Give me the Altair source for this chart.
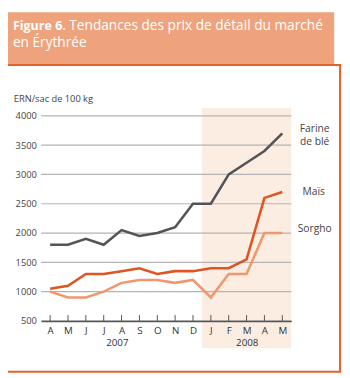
import json
import altair as alt
import pandas as pd

months = ["A", "M", "J", "J", "A", "S", "O", "N", "D", "J", "F", "M", "A", "M"]
years = ["2007", "2008"]
series_names = ["Farine de blé", "Maïs", "Sorgho"]
wheat = [1800, 1800, 1900, 1800, 2050, 1950, 2000, 2100, 2500, 2500, 3000, 3200, 3400, 3700]
maize = [1050, 1100, 1300, 1300, 1350, 1400, 1300, 1350, 1350, 1400, 1400, 1550, 2600, 2700]
sorghum = [1000, 900, 900, 1000, 1150, 1200, 1200, 1150, 1200, 900, 1300, 1300, 2000, 2000]
y_ticks = [500, 1000, 1500, 2000, 2500, 3000, 3500, 4000]
colors = ["#545456", "#DD5522", "#F0976C"]
FONT = "Open Sans"

rows = []
for name, vals in zip(series_names, [wheat, maize, sorghum]):
    for i, (m, v) in enumerate(zip(months, vals)):
        rows.append({"i": i, "mois": m, "serie": name, "prix": v})
df = pd.DataFrame(rows)

W, H = 256, 210
xs = alt.Scale(domain=[-0.5, len(months) - 0.5], nice=False, zero=False)
ys = alt.Scale(domain=[500, 4000], nice=False, zero=False)
one = pd.DataFrame({"a": [0]})

label_expr = json.dumps(months) + "[datum.value]"
ax_x = alt.Axis(
    values=list(range(len(months))), labelExpr=label_expr, title=None, grid=False, ticks=False,
    domainColor="#555555", domainWidth=1.5, labelFont=FONT, labelFontSize=10,
    labelColor="#333333", labelPadding=5, labelFlush=False, labelOverlap=False, zindex=1)
ax_y = alt.Axis(
    values=y_ticks, title=None, grid=False, ticks=False, domain=False, format="d",
    labelFont=FONT, labelFontSize=9.5, labelColor="#444444", labelPadding=5)

header = alt.Chart(one).mark_rect(color="#EEA37C").encode(
    x=alt.value(-42), x2=alt.value(300), y=alt.value(-106), y2=alt.value(-53))
border = alt.Chart(one).mark_rect(fillOpacity=0, stroke="#E3622A", strokeWidth=2).encode(
    x=alt.value(-41), x2=alt.value(306), y=alt.value(-52), y2=alt.value(262))
t1 = alt.Chart(one).mark_text(text="Figure 6", font=FONT, fontSize=12.8, fontWeight="bold",
                              color="white", align="left", baseline="alphabetic").encode(
    x=alt.value(-29), y=alt.value(-88))
t2 = alt.Chart(one).mark_text(text=". Tendances des prix de détail du marché", font=FONT, fontSize=14,
                              color="white", align="left", baseline="alphabetic").encode(
    x=alt.value(21.5), y=alt.value(-88))
t3 = alt.Chart(one).mark_text(text="en Érythrée", font=FONT, fontSize=14,
                              color="white", align="left", baseline="alphabetic").encode(
    x=alt.value(-29), y=alt.value(-71))

shade_df = pd.DataFrame({"x0": [8.5], "x1": [len(months) - 0.5]})
shade = alt.Chart(shade_df).mark_rect(color="#FCEDE3").encode(
    x=alt.X("x0:Q", scale=xs, axis=ax_x), x2="x1:Q", y=alt.value(-8), y2=alt.value(238))

grid_df = pd.DataFrame({"v": y_ticks})
grid = alt.Chart(grid_df).mark_rule(color="#B4B4B4", strokeWidth=1.2).encode(
    y=alt.Y("v:Q", scale=ys, axis=ax_y), x=alt.value(0), x2=alt.value(W))

tick_df = pd.DataFrame({"i": list(range(len(months)))})
ticks = alt.Chart(tick_df).mark_rule(color="#555555", strokeWidth=1).encode(
    x=alt.X("i:Q", scale=xs, axis=ax_x), y=alt.value(H - 6), y2=alt.value(H))

lines = alt.Chart(df).mark_line(strokeWidth=2.6).encode(
    x=alt.X("i:Q", scale=xs, axis=ax_x),
    y=alt.Y("prix:Q", scale=ys, axis=ax_y),
    color=alt.Color("serie:N", scale=alt.Scale(domain=series_names, range=colors), legend=None),
    detail="serie:N",
)

ytitle = alt.Chart(one).mark_text(text="ERN/sac de 100 kg", font=FONT, fontSize=9.5, color="#444444",
                                  align="left", baseline="middle").encode(x=alt.value(-28), y=alt.value(-17))
yr1 = alt.Chart(one).mark_text(text=years[0], font=FONT, fontSize=10, color="#333333",
                               align="center", baseline="middle").encode(x=alt.value(78), y=alt.value(232.5))
yr2 = alt.Chart(one).mark_text(text=years[1], font=FONT, fontSize=10, color="#333333",
                               align="center", baseline="middle").encode(x=alt.value(211), y=alt.value(232.5))

lab_style = dict(font=FONT, fontSize=10.5, color="#444444", align="center", baseline="middle")
lab1 = alt.Chart(one).mark_text(text="Farine", **lab_style).encode(x=alt.value(280), y=alt.value(14))
lab2 = alt.Chart(one).mark_text(text="de blé", **lab_style).encode(x=alt.value(280), y=alt.value(27))
lab3 = alt.Chart(one).mark_text(text=series_names[1], **lab_style).encode(x=alt.value(279), y=alt.value(78))
lab4 = alt.Chart(one).mark_text(text=series_names[2], **lab_style).encode(x=alt.value(280), y=alt.value(116))

chart = alt.layer(
    header, border, t1, t2, t3, shade, grid, ticks, lines, ytitle, yr1, yr2, lab1, lab2, lab3, lab4
).properties(
    width=W, height=H,
    padding={"left": 34, "top": 106, "right": 52, "bottom": 54},
    autosize=alt.AutoSizeParams(type="none"),
    background="white",
).configure_view(stroke=None)

chart.save("out.html", embed_options={"renderer": "svg", "actions": False})
